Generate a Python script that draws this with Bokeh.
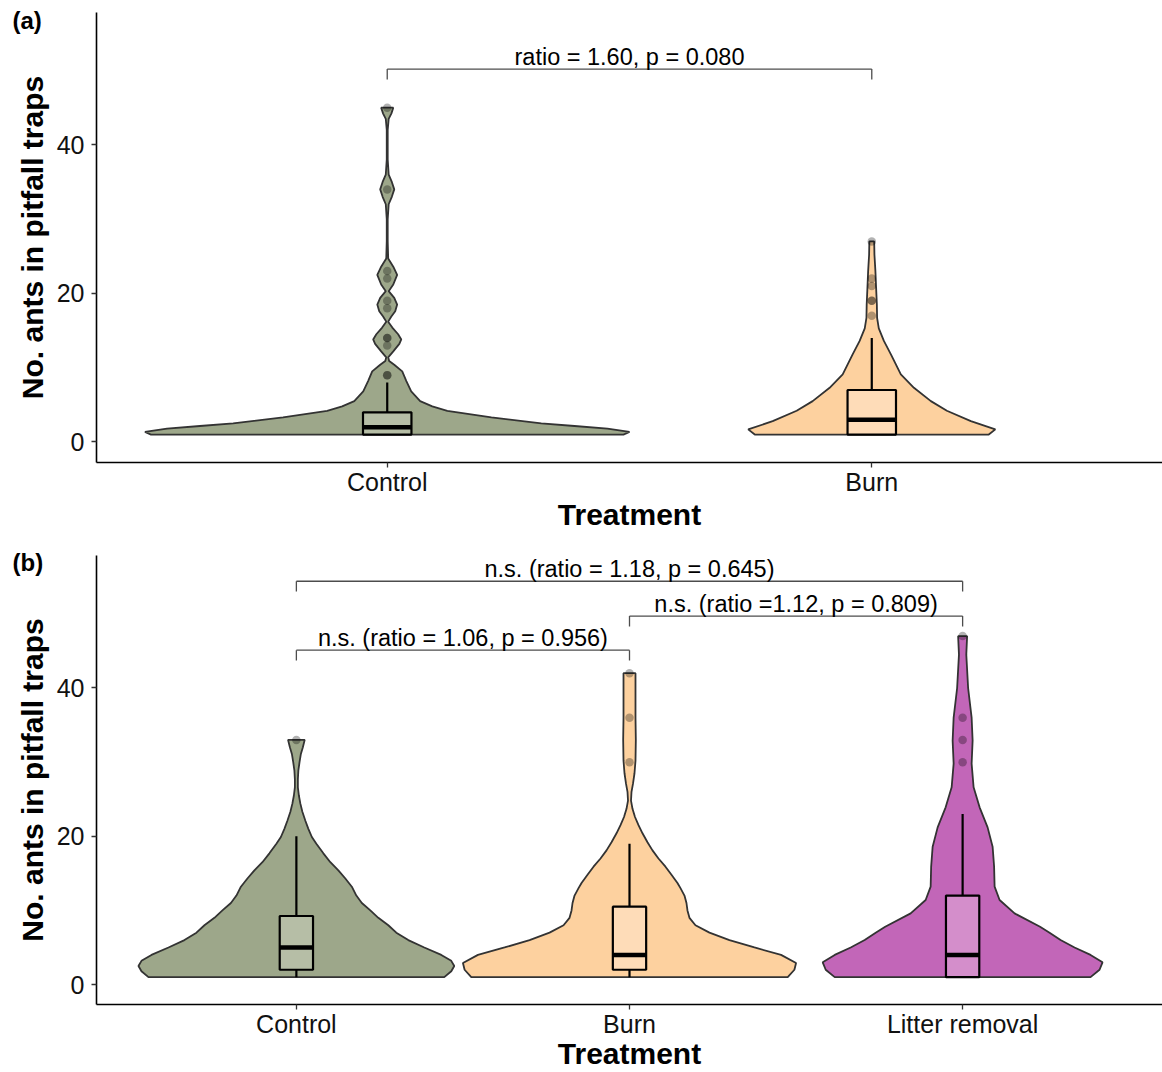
from bokeh.plotting import figure
from bokeh.layouts import column
from bokeh.models import Range1d, FixedTicker, Title
from bokeh.core.properties import value
from bokeh.embed import file_html
from bokeh.resources import INLINE

FONT = "Liberation Sans"

# ---------------- panel (a): two treatments ----------------
treat_a = ["Control", "Burn"]

# violin profiles: count level and relative density (1 = widest in panel)
ctrl_a_y = [1.0, 1.35, 1.8, 2.15, 2.5, 3.3, 4.2, 4.8, 5.5, 6.8, 8.2, 9.5, 10.4, 10.9,
            11.4, 12.2, 13.2, 13.8, 14.5, 15.4, 16.2, 16.9, 17.6, 18.5, 19.4, 20.3,
            21.2, 22.5, 23.6, 24.7, 27.0, 30.0, 32.0, 33.0, 34.0, 35.0, 36.0, 38.0,
            42.0, 43.5, 44.2, 45.0]
ctrl_a_d = [0.975, 1.0, 0.909, 0.773, 0.636, 0.430, 0.248, 0.186, 0.136, 0.099, 0.079,
            0.062, 0.029, 0.008, 0.004, 0.025, 0.050, 0.058, 0.045, 0.021, 0.004, 0.017,
            0.033, 0.041, 0.029, 0.006, 0.025, 0.041, 0.025, 0.004, 0.002, 0.002, 0.006,
            0.019, 0.029, 0.019, 0.006, 0.002, 0.002, 0.006, 0.017, 0.025]
burn_a_y = [1.0, 1.7, 2.8, 4.2, 5.5, 7.3, 9.1, 11.8, 13.6, 15.3, 16.7, 18.5, 20.7, 23.0,
            25.2, 27.0]
burn_a_d = [0.483, 0.510, 0.409, 0.310, 0.244, 0.174, 0.120, 0.079, 0.050, 0.029, 0.022,
            0.021, 0.018, 0.015, 0.011, 0.010]

# box-plot summaries: lower whisker, Q1, median, Q3, upper whisker
box_a = [
    (1, 1, 2, 4, 8),
    (1, 1, 3, 7, 14),
]
out_a = [
    [9, 9, 13, 14, 14, 18, 19, 22, 23, 34, 45],
    [17, 19, 19, 21, 22, 27],
]
cmp_a = [(1, 2, 50.2, "ratio = 1.60, p = 0.080")]

# ---------------- panel (b): three treatments ----------------
treat_b = ["Control", "Burn", "Litter removal"]

ctrl_b_y = [1.0, 1.8, 2.5, 3.2, 4.0, 5.0, 6.0, 7.0, 8.0, 9.0, 10.0, 11.0, 12.0, 13.2,
            14.3, 15.4, 16.5, 17.7, 19.0, 19.9, 21.0, 22.1, 23.3, 24.4, 25.5, 26.6,
            27.7, 28.9, 30.0, 31.1, 32.0, 33.0]
ctrl_b_d = [0.888, 0.930, 0.948, 0.930, 0.870, 0.768, 0.672, 0.600, 0.552, 0.492, 0.444,
            0.393, 0.360, 0.333, 0.294, 0.252, 0.204, 0.162, 0.120, 0.093, 0.072, 0.054,
            0.036, 0.024, 0.015, 0.009, 0.009, 0.012, 0.019, 0.027, 0.039, 0.050]
burn_b_y = [1.0, 2.0, 2.9, 4.0, 5.0, 6.0, 7.0, 8.0, 9.0, 10.0, 11.0, 12.0, 13.0, 13.7,
            14.8, 15.9, 17.0, 18.1, 19.2, 20.4, 21.5, 22.6, 23.7, 24.8, 26.0, 27.1,
            28.5, 30.2, 33.0, 36.0, 39.0, 42.0]
burn_b_d = [0.950, 0.990, 1.0, 0.910, 0.750, 0.600, 0.480, 0.396, 0.360, 0.348, 0.342,
            0.330, 0.306, 0.288, 0.252, 0.216, 0.174, 0.138, 0.108, 0.078, 0.054, 0.033,
            0.018, 0.009, 0.012, 0.021, 0.030, 0.036, 0.038, 0.036, 0.036, 0.036]
litt_b_y = [1.0, 2.0, 3.0, 4.0, 5.0, 6.0, 7.0, 7.8, 9.6, 11.4, 13.2, 15.9, 18.6, 21.2,
            23.9, 26.6, 29.8, 32.9, 36.0, 40.0, 44.5, 47.0]
litt_b_d = [0.768, 0.822, 0.840, 0.768, 0.672, 0.588, 0.522, 0.465, 0.312, 0.222, 0.192,
            0.189, 0.180, 0.150, 0.102, 0.066, 0.054, 0.060, 0.054, 0.033, 0.022, 0.027]

box_b = [
    (1, 2, 5, 9.25, 20),
    (1, 2, 4, 10.5, 19),
    (1, 1, 4, 12, 23),
]
out_b = [
    [33],
    [30, 36, 42],
    [30, 33, 36, 47],
]
cmp_b = [
    (1, 3, 54.4, "n.s. (ratio = 1.18, p = 0.645)"),
    (2, 3, 49.7, "n.s. (ratio =1.12, p = 0.809)"),
    (1, 2, 45.1, "n.s. (ratio = 1.06, p = 0.956)"),
]

# fills: violin body and lighter box
VIOLIN_FILL = ["#9da78a", "#fdd19f", "#c266b8"]
BOX_FILL = ["#b6bea6", "#fedcb8", "#d48ecb"]

HALF_WIDTH = 0.5   # violin half-width at relative density 1
BOX_HALF = 0.05
TIP = 1.4          # bracket tip length in count units
LEFT = 96


def make_panel(tag, tag_standoff, treats, profiles, boxes, outs, comps, height, top, bottom,
               y_lo, y_hi, title_std):
    n = len(treats)
    p = figure(width=1162, height=height, output_backend="svg", toolbar_location=None,
               x_range=Range1d(0.4, n + 0.6), y_range=Range1d(y_lo, y_hi),
               min_border_left=LEFT, min_border_right=0, min_border_top=top,
               min_border_bottom=bottom, title=None)
    p.outline_line_color = None
    p.xgrid.grid_line_color = None
    p.ygrid.grid_line_color = None
    p.background_fill_color = "white"
    p.border_fill_color = "white"

    for i, ((ys, ds), bx, ov) in enumerate(zip(profiles, boxes, outs)):
        c = i + 1
        xs = [c - HALF_WIDTH * d for d in ds] + [c + HALF_WIDTH * d for d in reversed(ds)]
        yy = list(ys) + list(reversed(ys))
        p.patch(xs, yy, fill_color=VIOLIN_FILL[i], line_color="#333333", line_width=1.8)

        lo, q1, med, q3, hi = bx
        p.segment(x0=[c], x1=[c], y0=[q3], y1=[hi], line_color="black", line_width=2.2)
        if lo < q1:
            p.segment(x0=[c], x1=[c], y0=[lo], y1=[q1], line_color="black", line_width=2.2)
        p.quad(left=[c - BOX_HALF], right=[c + BOX_HALF], bottom=[q1], top=[q3],
               fill_color=BOX_FILL[i], line_color="black", line_width=2.2)
        p.segment(x0=[c - BOX_HALF], x1=[c + BOX_HALF], y0=[med], y1=[med],
                  line_color="black", line_width=4.5)
        p.scatter(x=[c] * len(ov), y=ov, size=8.5, fill_color="black", fill_alpha=0.3,
                  line_color=None)

    for a, b, yl, txt in comps:
        p.segment(x0=[a, a, b], x1=[b, a, b], y0=[yl, yl - TIP, yl - TIP], y1=[yl, yl, yl],
                  line_color="#4d4d4d", line_width=1.3)
        p.text(x=[(a + b) / 2], y=[yl - 0.1], text=[txt], text_align="center",
               text_baseline="bottom", text_font=value(FONT), text_font_size="23.5px",
               text_color="black")

    xa = p.xaxis[0]
    xa.ticker = FixedTicker(ticks=list(range(1, n + 1)))
    xa.major_label_overrides = {i + 1: t for i, t in enumerate(treats)}
    ya = p.yaxis[0]
    ya.ticker = FixedTicker(ticks=[0, 20, 40])
    for ax in (xa, ya):
        ax.axis_line_color = "black"
        ax.axis_line_width = 1.6
        ax.major_tick_line_color = "#333333"
        ax.major_tick_line_width = 1.3
        ax.major_tick_in = 0
        ax.major_tick_out = 5
        ax.minor_tick_line_color = None
        ax.major_label_text_font = FONT
        ax.major_label_text_font_size = "25px"
        ax.major_label_text_color = "#111111"
        ax.axis_label_text_font = FONT
        ax.axis_label_text_font_size = "30px"
        ax.axis_label_text_font_style = "bold"
        ax.axis_label_text_color = "black"
    xa.axis_label = "Treatment"
    ya.axis_label = "No. ants in pitfall traps"
    xa.major_label_standoff = 0
    xa.axis_label_standoff = title_std
    ya.major_label_standoff = 7
    ya.axis_label_standoff = 5

    # panel letter in the top-left corner, pulled down beside the y axis
    p.add_layout(Title(text=tag, align="left", offset=12 - LEFT, standoff=tag_standoff,
                       text_font=FONT, text_font_size="24px", text_font_style="bold",
                       text_color="black"), "above")
    return p


pa = make_panel("(a)", -42, treat_a, [(ctrl_a_y, ctrl_a_d), (burn_a_y, burn_a_d)], box_a,
                out_a, cmp_a, 538, 12, 76, -2.76, 57.81, -1)
pb = make_panel("(b)", -40, treat_b,
                [(ctrl_b_y, ctrl_b_d), (burn_b_y, burn_b_d), (litt_b_y, litt_b_d)],
                box_b, out_b, cmp_b, 534, 17, 66, -2.69, 57.87, -4)

layout = column(pa, pb, spacing=0)
open("out.html", "w").write(file_html(layout, INLINE))
